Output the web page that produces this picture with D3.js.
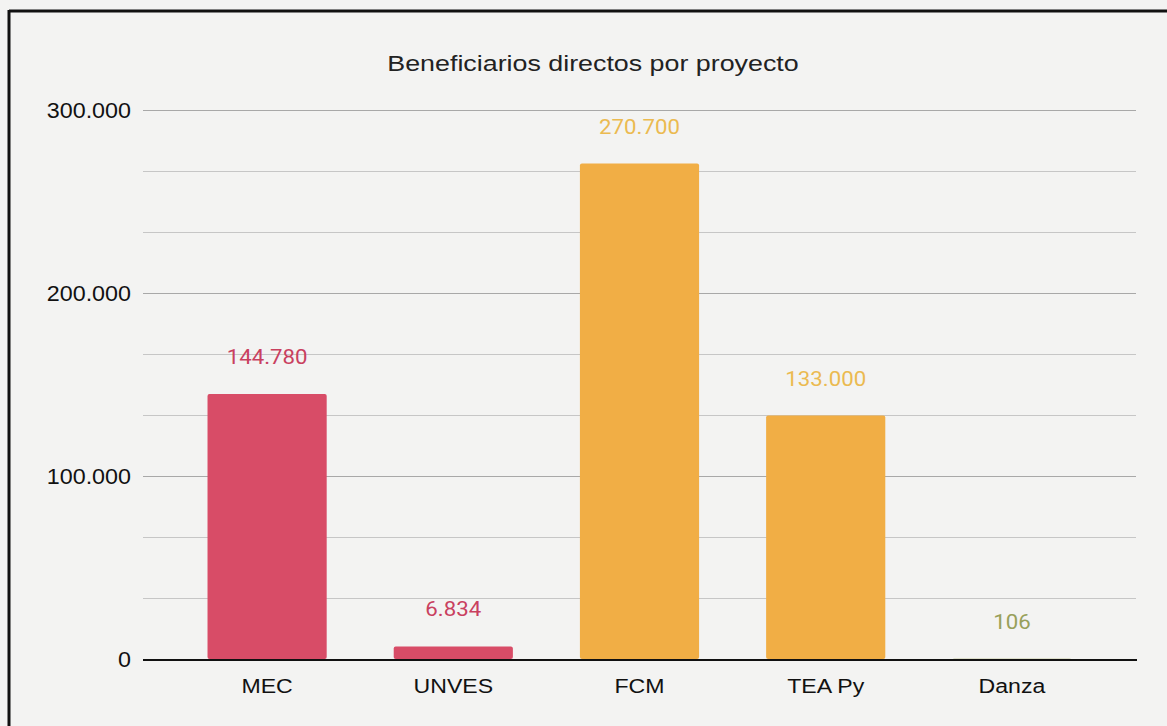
<!DOCTYPE html>
<html><head><meta charset="utf-8">
<script src="https://cdn.jsdelivr.net/npm/d3@7"></script>
<style>
html,body{margin:0;padding:0;background:#f3f3f2;}
svg{display:block;}
</style></head>
<body>
<svg id="chart" width="1167" height="726"></svg>
<script>
const categories = ["MEC", "UNVES", "FCM", "TEA Py", "Danza"];
const values = [144780, 6834, 270700, 133000, 106];
const barColors = ["#d84c67", "#d84c67", "#f1ae45", "#f1ae45", "#9aa05a"];
const labelColors = ["#c9405f", "#c9405f", "#ebba50", "#ebba50", "#98a05a"];
const majorTicks = [0, 100000, 200000, 300000];
const gridTicks = [0, 33333.33, 66666.67, 100000, 133333.33, 166666.67, 200000, 233333.33, 266666.67, 300000];
const title = "Beneficiarios directos por proyecto";

const svg = d3.select("#chart");
const fmt = d3.formatLocale({decimal: ",", thousands: ".", grouping: [3], currency: ["", ""]}).format(",d");

const plotLeft = 143, plotRight = 1136;
const y = d3.scaleLinear().domain([0, 300000]).range([659, 110]);
const x = d3.scaleBand().domain(categories).range([174, 1105]).paddingInner(0.36).paddingOuter(0.18);

// frame from scan
svg.append("line").attr("x1", 9).attr("x2", 1167).attr("y1", 11).attr("y2", 11).attr("stroke", "#111").attr("stroke-width", 3);
svg.append("line").attr("x1", 9).attr("x2", 9).attr("y1", 10).attr("y2", 726).attr("stroke", "#111").attr("stroke-width", 3);

// title
svg.append("text").attr("transform", "translate(593,71) scale(1.22,1)").attr("text-anchor", "middle")
  .attr("font-family", "Liberation Sans, Arial, sans-serif").attr("font-size", 22).attr("fill", "#222").text(title);

// gridlines
svg.append("g").selectAll("line").data(gridTicks.filter(d => d > 0)).join("line")
  .attr("x1", plotLeft).attr("x2", plotRight)
  .attr("y1", d => Math.round(y(d)) + 0.5).attr("y2", d => Math.round(y(d)) + 0.5)
  .attr("stroke", d => majorTicks.includes(d) ? "#a8a8a8" : "#c6c6c6").attr("stroke-width", 1);

// y axis labels
const yAxis = d3.axisLeft(y).tickValues(majorTicks).tickFormat(fmt).tickSize(0).tickPadding(0);
const gy = svg.append("g").attr("transform", `translate(131,0)`).call(yAxis);
gy.select(".domain").remove();
gy.selectAll("text").attr("font-family", "Liberation Sans, Arial, sans-serif").attr("font-size", 22)
  .attr("fill", "#111").attr("transform", "scale(1.06,1)");

// bars
svg.append("g").selectAll("rect").data(values).join("rect")
  .attr("x", (d, i) => x(categories[i]))
  .attr("width", x.bandwidth())
  .attr("y", d => y(d))
  .attr("height", d => y(0) - y(d))
  .attr("rx", 2)
  .attr("fill", (d, i) => barColors[i]);

// value labels
svg.append("g").selectAll("text").data(values).join("text")
  .attr("transform", (d, i) => `translate(${x(categories[i]) + x.bandwidth() / 2},${y(d) - 30}) scale(1.06,1)`)
  .attr("text-anchor", "middle")
  .attr("font-family", "Roboto, Arial, sans-serif").attr("font-size", 21)
  .attr("fill", (d, i) => labelColors[i])
  .text(d => fmt(d));

// x axis labels + baseline
const xAxis = d3.axisBottom(x).tickSize(0).tickPadding(0);
const gx = svg.append("g").attr("transform", `translate(0,${y(0)})`).call(xAxis);
gx.select(".domain").remove();
gx.selectAll("text").attr("dy", null).attr("y", 34)
  .attr("font-family", "Liberation Sans, Arial, sans-serif").attr("font-size", 21)
  .attr("fill", "#111").attr("transform", "scale(1.1,1)");
svg.append("line").attr("x1", plotLeft).attr("x2", 1137).attr("y1", y(0) + 1).attr("y2", y(0) + 1)
  .attr("stroke", "#111").attr("stroke-width", 2);
</script>
</body></html>
